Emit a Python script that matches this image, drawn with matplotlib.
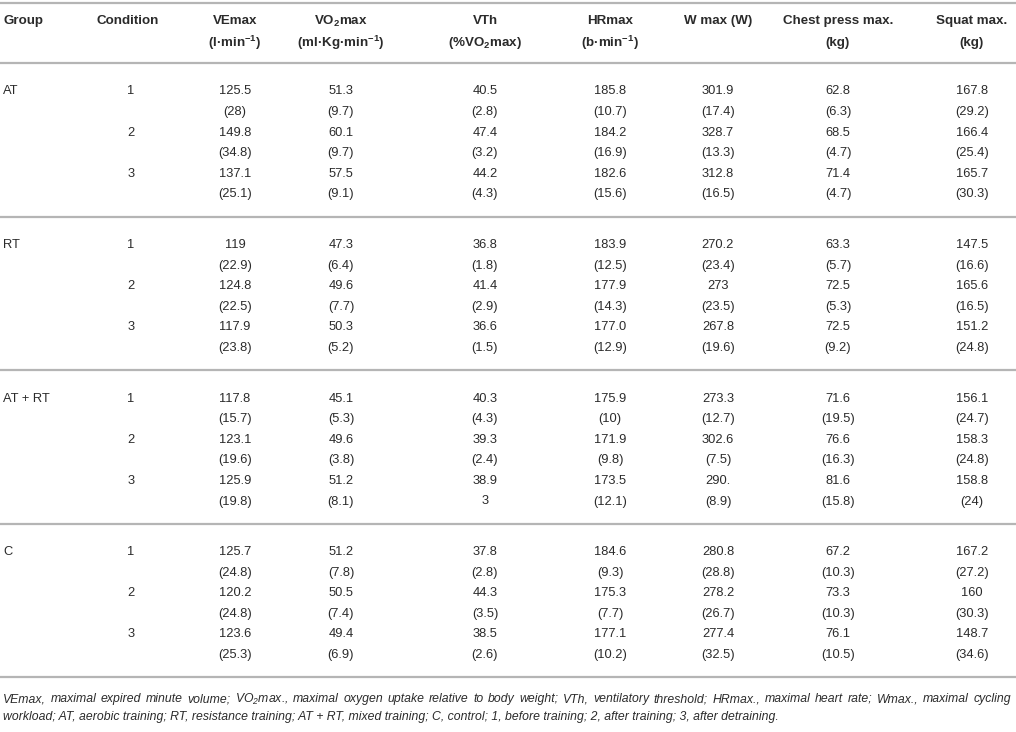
import matplotlib
matplotlib.use("Agg")
import matplotlib.pyplot as plt

plt.rcParams['font.family'] = ['Liberation Sans', 'DejaVu Sans']
plt.rcParams['mathtext.default'] = 'regular'

groups = ["AT", "RT", "AT + RT", "C"]
conditions = ["1", "2", "3"]

header_top = ["Group", "Condition", "VEmax", "VO$_2$max", "VTh", "HRmax", "W max (W)", "Chest press max.", "Squat max."]
header_bot = ["", "", "(l·min$^{-1}$)", "(ml·Kg·min$^{-1}$)", "(%VO$_2$max)", "(b·min$^{-1}$)", "", "(kg)", "(kg)"]

ve_mean = ["125.5", "149.8", "137.1", "119", "124.8", "117.9", "117.8", "123.1", "125.9", "125.7", "120.2", "123.6"]
ve_sd = ["(28)", "(34.8)", "(25.1)", "(22.9)", "(22.5)", "(23.8)", "(15.7)", "(19.6)", "(19.8)", "(24.8)", "(24.8)", "(25.3)"]
vo2_mean = ["51.3", "60.1", "57.5", "47.3", "49.6", "50.3", "45.1", "49.6", "51.2", "51.2", "50.5", "49.4"]
vo2_sd = ["(9.7)", "(9.7)", "(9.1)", "(6.4)", "(7.7)", "(5.2)", "(5.3)", "(3.8)", "(8.1)", "(7.8)", "(7.4)", "(6.9)"]
vth_mean = ["40.5", "47.4", "44.2", "36.8", "41.4", "36.6", "40.3", "39.3", "38.9", "37.8", "44.3", "38.5"]
vth_sd = ["(2.8)", "(3.2)", "(4.3)", "(1.8)", "(2.9)", "(1.5)", "(4.3)", "(2.4)", "3", "(2.8)", "(3.5)", "(2.6)"]
hr_mean = ["185.8", "184.2", "182.6", "183.9", "177.9", "177.0", "175.9", "171.9", "173.5", "184.6", "175.3", "177.1"]
hr_sd = ["(10.7)", "(16.9)", "(15.6)", "(12.5)", "(14.3)", "(12.9)", "(10)", "(9.8)", "(12.1)", "(9.3)", "(7.7)", "(10.2)"]
w_mean = ["301.9", "328.7", "312.8", "270.2", "273", "267.8", "273.3", "302.6", "290.", "280.8", "278.2", "277.4"]
w_sd = ["(17.4)", "(13.3)", "(16.5)", "(23.4)", "(23.5)", "(19.6)", "(12.7)", "(7.5)", "(8.9)", "(28.8)", "(26.7)", "(32.5)"]
chest_mean = ["62.8", "68.5", "71.4", "63.3", "72.5", "72.5", "71.6", "76.6", "81.6", "67.2", "73.3", "76.1"]
chest_sd = ["(6.3)", "(4.7)", "(4.7)", "(5.7)", "(5.3)", "(9.2)", "(19.5)", "(16.3)", "(15.8)", "(10.3)", "(10.3)", "(10.5)"]
squat_mean = ["167.8", "166.4", "165.7", "147.5", "165.6", "151.2", "156.1", "158.3", "158.8", "167.2", "160", "148.7"]
squat_sd = ["(29.2)", "(25.4)", "(30.3)", "(16.6)", "(16.5)", "(24.8)", "(24.7)", "(24.8)", "(24)", "(27.2)", "(30.3)", "(34.6)"]

footnote = [
    "VEmax, maximal expired minute volume; VO$_2$max., maximal oxygen uptake relative to body weight; VTh, ventilatory threshold; HRmax., maximal heart rate; Wmax., maximal cycling",
    "workload; AT, aerobic training; RT, resistance training; AT + RT, mixed training; C, control; 1, before training; 2, after training; 3, after detraining.",
]

means = [ve_mean, vo2_mean, vth_mean, hr_mean, w_mean, chest_mean, squat_mean]
sds = [ve_sd, vo2_sd, vth_sd, hr_sd, w_sd, chest_sd, squat_sd]

W, H = 1016, 732
fig = plt.figure(figsize=(W / 100, H / 100), dpi=100)
ax = fig.add_axes([0, 0, 1, 1])
ax.set_xlim(0, W)
ax.set_ylim(H, 0)
ax.axis("off")

col_x = [3, 128, 235, 341, 485, 610, 718, 838, 972]
txt_col = "#2b2b2b"
line_col = "#b5b5b5"
fs = 9.3
hfs = 9.6

# header
for i, (t, b) in enumerate(zip(header_top, header_bot)):
    ha = "left" if i == 0 else "center"
    ax.text(col_x[i], 21, t, ha=ha, va="center", fontsize=hfs, fontweight="bold", color=txt_col)
    if b:
        ax.text(col_x[i], 43, b, ha=ha, va="center", fontsize=hfs, fontweight="bold", color=txt_col)

stride = 153.5
lines_y = [3] + [63 + stride * k for k in range(5)]
for y in lines_y:
    ax.plot([0, W], [y, y], color=line_col, lw=1.6, solid_capstyle="butt")

row_sp = 20.6
for g, gname in enumerate(groups):
    y0 = lines_y[g + 1] + 28.5
    ax.text(col_x[0], y0, gname, ha="left", va="center", fontsize=fs, color=txt_col)
    for c, cname in enumerate(conditions):
        k = g * 3 + c
        ym = y0 + 2 * c * row_sp
        ys = ym + row_sp
        ax.text(col_x[1] + 3, ym, cname, ha="center", va="center", fontsize=fs, color=txt_col)
        for j in range(7):
            ax.text(col_x[j + 2], ym, means[j][k], ha="center", va="center", fontsize=fs, color=txt_col)
            ax.text(col_x[j + 2], ys, sds[j][k], ha="center", va="center", fontsize=fs, color=txt_col)

# footnote: first line justified across the width, second line left aligned
ffs = 8.8
fig.canvas.draw()
renderer = fig.canvas.get_renderer()
words = footnote[0].split(" ")
objs = []
widths = []
for w in words:
    t = ax.text(0, 699, w, ha="left", va="center", fontsize=ffs, style="italic", color=txt_col)
    bb = t.get_window_extent(renderer=renderer)
    objs.append(t)
    widths.append(bb.width)
left, right = 3, 1011
gap = (right - left - sum(widths)) / (len(words) - 1)
x = left
for t, wd in zip(objs, widths):
    t.set_x(x)
    x += wd + gap
ax.text(3, 717, footnote[1], ha="left", va="center", fontsize=ffs, style="italic", color=txt_col)

fig.savefig("out.png", dpi=100, facecolor="white")
